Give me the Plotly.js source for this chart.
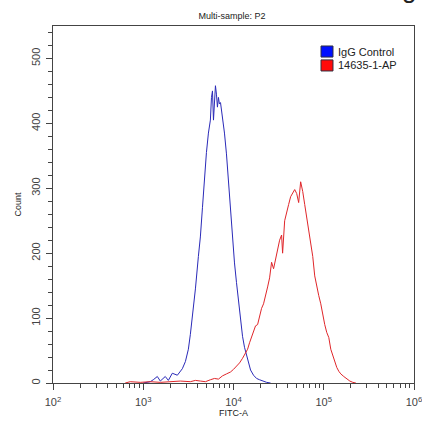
<!DOCTYPE html>
<html>
<head>
<meta charset="utf-8">
<script src="https://cdn.plot.ly/plotly-3.0.1.min.js"></script>
<style>html,body{margin:0;padding:0;background:#fff;}#chart{width:422px;height:421px;}</style>
</head>
<body>
<div id="chart"></div>
<script>
// IgG Control histogram (FITC-A value, count)
var iggFitc = [1000,1197,1291,1432,1545,1667,1754,1897,2099,2388,2576,2710,2931,3162,3327,3499,3784,4083,4295,4529,4764,5012,5272,5546,5702,5848,5998,6152,6310,6471,6637,6808,6982,7178,7551,7943,8356,8790,9268,9750,10257,10789,11376,11967,12589,13243,13932,14689,15453,16672,18030,19453,20989,23281,25763];
var iggCount = [0,2,5,10,3,8,10,4,15,12,18,22,33,52,75,100,145,195,225,270,320,355,385,405,440,450,405,440,458,445,425,440,430,432,410,385,353,310,270,225,185,155,125,95,72,55,42,28,20,12,7,5,3,1,0];

// 14635-1-AP histogram (FITC-A value, count)
var apFitc = [631,718,927,1197,1545,1995,2576,3327,3784,4295,4887,5546,6152,6808,7551,8356,9268,10000,10789,11668,12589,13583,14322,15066,15849,16672,17539,18493,19453,20464,21528,22699,23878,25119,26424,27797,29309,30832,32434,34119,34995,36898,38815,40832,42954,45290,47643,50119,52723,55463,58479,61518,64714,68077,71779,75509,79433,83560,87902,92683,97499,102565,107895,113763,119674,125893,132434,139316,146893,154525,166725,180302,194536,209894,226986];
var apCount = [0,2,1,2,1,2,3,2,4,3,2,5,7,6,11,14,17,21,26,31,38,46,52,62,72,80,88,90,102,115,122,138,148,162,186,176,192,210,220,228,200,250,265,275,287,293,298,292,278,310,295,275,255,232,215,195,165,148,135,122,105,90,78,70,52,42,33,24,18,14,10,6,3,1,0];

var seriesNames = ["IgG Control", "14635-1-AP"];
var seriesLine = ["#2a2ab8", "#e0262a"];
var seriesKey = ["#0010ff", "#ff0a0a"];
var xMajorVals = [100, 1000, 10000, 100000, 1000000];
var xMajorText = ["10<sup>2</sup>", "10<sup>3</sup>", "10<sup>4</sup>", "10<sup>5</sup>", "10<sup>6</sup>"];
var yMajorVals = [0, 100, 200, 300, 400, 500];
var yMajorText = ["0", "100", "200", "300", "400", "500"];

var xMinorVals = [];
[100, 1000, 10000, 100000].forEach(function (d) {
  for (var k = 2; k <= 9; k++) xMinorVals.push(d * k);
});

var font = "Liberation Sans, Arial, sans-serif";

var traces = [
  {x: iggFitc, y: iggCount, name: seriesNames[0], type: "scatter", mode: "lines", line: {color: seriesLine[0], width: 1}, hoverinfo: "skip"},
  {x: apFitc, y: apCount, name: seriesNames[1], type: "scatter", mode: "lines", line: {color: seriesLine[1], width: 1}, hoverinfo: "skip"}
];

// manual legend (square keys like the reference)
var shapes = [], annotations = [];
var keyTop = [0.944, 0.905];
seriesNames.forEach(function (n, i) {
  shapes.push({type: "rect", xref: "paper", yref: "paper", x0: 0.7424, x1: 0.7756, y0: keyTop[i] - 0.031, y1: keyTop[i],
               fillcolor: seriesKey[i], line: {color: "#303040", width: 1}});
  annotations.push({text: n, xref: "paper", yref: "paper", x: 0.784, xanchor: "left", y: keyTop[i] - 0.0155, yanchor: "middle",
                    showarrow: false, font: {family: font, size: 11, color: "#222"}});
});
annotations.push({text: "g", xref: "paper", yref: "paper", x: 1.0, xanchor: "right", xshift: 4, y: 1.056, yanchor: "bottom",
                  showarrow: false, font: {family: font, size: 26, color: "#222"}});

var layout = {
  width: 422, height: 421,
  margin: {l: 53, r: 8, t: 26, b: 38},
  paper_bgcolor: "#fff", plot_bgcolor: "#fff",
  font: {family: font, size: 10, color: "#333"},
  title: {text: "Multi-sample: P2", font: {family: font, size: 9, color: "#222"}, x: 0.55, xanchor: "center", y: 0.962, yanchor: "middle"},
  showlegend: false,
  xaxis: {
    type: "log", range: [2, 6],
    tickmode: "array", tickvals: xMajorVals, ticktext: xMajorText,
    ticks: "outside", ticklen: 6, tickwidth: 1, tickcolor: "#444",
    minor: {tickmode: "array", tickvals: xMinorVals, ticks: "outside", ticklen: 4, tickwidth: 1, tickcolor: "#444"},
    showline: true, linecolor: "#444", linewidth: 1, mirror: true,
    showgrid: false, zeroline: false,
    ticklabeloverflow: "allow", ticklabelstandoff: 3,
    tickfont: {family: font, size: 11, color: "#444"},
    title: {text: "FITC-A", font: {family: font, size: 9, color: "#222"}, standoff: 2}
  },
  yaxis: {
    range: [0, 550],
    tickmode: "array", tickvals: yMajorVals, ticktext: yMajorText,
    tickangle: -90,
    ticks: "outside", ticklen: 6, tickwidth: 1, tickcolor: "#444",
    minor: {dtick: 20, ticks: "outside", ticklen: 4, tickwidth: 1, tickcolor: "#444"},
    showline: true, linecolor: "#444", linewidth: 1, mirror: true,
    showgrid: false, zeroline: false,
    ticklabelstandoff: 2,
    tickfont: {family: font, size: 11, color: "#444"},
    title: {text: "Count", font: {family: font, size: 9, color: "#222"}, standoff: 6}
  },
  shapes: shapes,
  annotations: annotations
};

Plotly.newPlot("chart", traces, layout, {displayModeBar: false, staticPlot: true});
</script>
</body>
</html>
